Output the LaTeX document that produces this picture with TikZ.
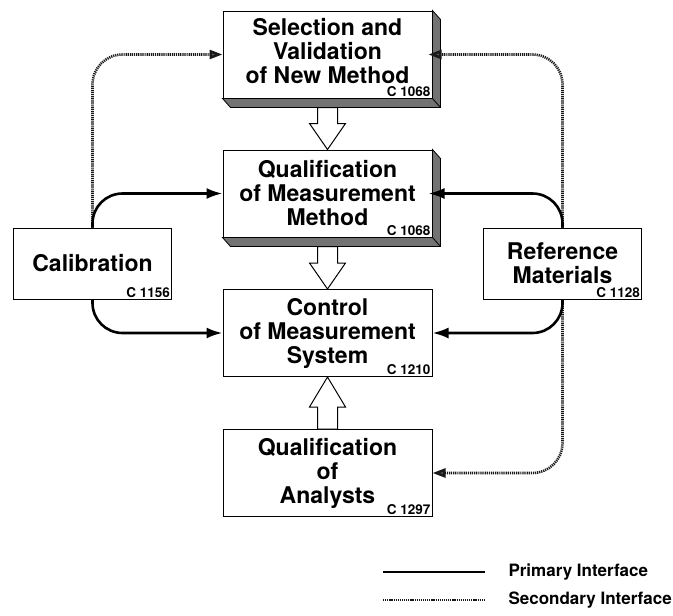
\documentclass[tikz,border=0pt]{standalone}
\usepackage{fontspec}
\setmainfont{TeX Gyre Heros}
\usetikzlibrary{positioning,calc,arrows.meta}

\tikzset{
	stage/.style={draw, line width=1pt, minimum width=209pt, minimum height=87pt, align=center, inner sep=2pt, fill=white, font=\fontsize{23}{24}\selectfont\bfseries},
	side/.style={stage, minimum width=158pt, minimum height=71pt},
	code/.style={anchor=south east, inner sep=2pt, font=\fontsize{13.5}{14}\selectfont\bfseries},
	primary/.style={line width=2.6pt, rounded corners=30pt, -{Latex[length=16pt,width=11pt]}},
	secondary/.style={line width=2.6pt, dash pattern=on 1.2pt off 0.9pt, black!90, rounded corners=30pt, -{Triangle[length=13pt,width=9pt,fill=black!60]}},
	extrude/.style={draw, line width=0.8pt, fill=black!55},
	fatarrow/.style={draw, line width=1pt, fill=white},
	legend/.style={anchor=west, font=\fontsize{17}{17}\selectfont\bfseries}
}

\newcommand\boxshade[1]{%
	\draw[extrude] (#1.south west) -- ++(8,9) -- ($(#1.south east)+(8,9)$) -- ($(#1.north east)+(8,9)$) -- (#1.north east) -- (#1.south east) -- cycle;
	\draw[line width=0.8pt] (#1.south east) -- ++(8,9);}

\newcommand\hollowarrow[3]{%
	\coordinate (hb) at ($(#2)!#3!(#1)$);
	\draw[fatarrow] ($(#1)+(-10,0)$) -- ($(hb)+(-10,0)$) -- ($(hb)+(-18,0)$) -- (#2) -- ($(hb)+(18,0)$) -- ($(hb)+(10,0)$) -- ($(#1)+(10,0)$) -- cycle;}

\begin{document}
\begin{tikzpicture}[x=1pt,y=-1pt,node distance=139pt,on grid]
	\useasboundingbox (0,0) rectangle (673,616);

	\node[stage, text depth=8pt] (sel) at (327.5,54.5) {Selection and\\Validation\\of New Method};
	\node[stage] (qual) [below=of sel] {Qualification\\of Measurement\\Method};
	\node[stage] (ctrl) [below=139.5pt of qual] {Control\\of Measurement\\System};
	\node[stage] (ana) [below=140pt of ctrl] {Qualification\\of\\Analysts};
	\node[side] (cal) at (92.5,263.5) {Calibration};
	\node[side] (ref) at (562.5,263.5) {Reference\\Materials};

	\boxshade{sel}
	\boxshade{qual}

	\node[code] (sel-c) at (sel.south east) {C 1068};
	\node[code] (qual-c) at (qual.south east) {C 1068};
	\node[code] (ctrl-c) at (ctrl.south east) {C 1210};
	\node[code] (ana-c) at (ana.south east) {C 1297};
	\node[code] (cal-c) at (cal.south east) {C 1156};
	\node[code] (ref-c) at (ref.south east) {C 1128};

	\coordinate (sel-b) at ($(sel.south)+(0,9)$);
	\coordinate (qual-b) at ($(qual.south)+(0,9)$);
	\hollowarrow{sel-b}{qual.north}{26pt}
	\hollowarrow{qual-b}{ctrl.north}{26pt}
	\hollowarrow{ana.north}{ctrl.south}{30pt}

	\draw[secondary] (cal.north) |- (sel.west);
	\draw[secondary, shorten >=-4pt] (ref.north) |- (sel.east);
	\draw[secondary] (ref.south) |- (ana.east);

	\draw[primary] (cal.north) |- (qual.west);
	\draw[primary] (cal.south) |- (ctrl.west);
	\draw[primary, shorten >=-4pt] (ref.north) |- (qual.east);
	\draw[primary] (ref.south) |- (ctrl.east);

	\coordinate (p1) at (383,572);
	\coordinate (p2) at (485,572);
	\coordinate (s1) at (383,600);
	\coordinate (s2) at (485,600);
	\draw[line width=2.6pt] (p1) -- (p2);
	\draw[secondary, -] (s1) -- (s2);
	\node[legend] (p-lab) at (505,572) {Primary Interface};
	\node[legend] (s-lab) at (505,600) {Secondary Interface};
\end{tikzpicture}
\end{document}
